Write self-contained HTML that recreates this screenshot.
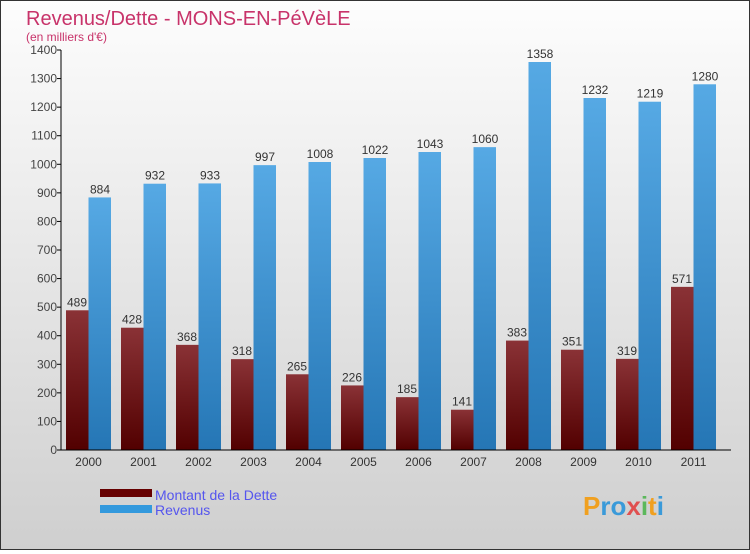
<!DOCTYPE html>
<html><head><meta charset="utf-8"><style>
html,body{margin:0;padding:0}
body{width:750px;height:550px;overflow:hidden;font-family:"Liberation Sans",sans-serif}
#wrap{position:relative;width:748px;height:548px;border:1px solid #333;background:linear-gradient(#fdfdfd,#cfcfcf)}
</style></head><body>
<div id="wrap">
<svg id="chart" width="748" height="548" xmlns="http://www.w3.org/2000/svg">
<defs>
<linearGradient id="gD" x1="0" y1="0" x2="0" y2="1"><stop offset="0" stop-color="#8a3236"/><stop offset="1" stop-color="#520000"/></linearGradient>
<linearGradient id="gR" x1="0" y1="0" x2="0" y2="1"><stop offset="0" stop-color="#56a9e4"/><stop offset="1" stop-color="#2576b5"/></linearGradient>
</defs>
<text x="25" y="24" font-size="20" fill="#c8336a">Revenus/Dette - MONS-EN-PéVèLE</text>
<text x="25" y="40" font-size="12" fill="#c8336a">(en milliers d'€)</text>
<g id="plot"></g>
<g>
<rect x="99" y="488" width="52" height="8" fill="#660000"/>
<text x="154" y="499" font-size="14" fill="#5555ee">Montant de la Dette</text>
<rect x="99" y="504" width="52" height="8" fill="#3399dd"/>
<text x="154" y="514" font-size="14" fill="#5555ee">Revenus</text>
</g>
<text x="582" y="514" font-size="26" font-weight="bold" fill="#3a9ad9"><tspan fill="#f0a020">P</tspan><tspan fill="#3a9ad9">ro</tspan><tspan fill="#e05050">x</tspan><tspan fill="#5cb85c">i</tspan><tspan fill="#f0a020">t</tspan><tspan fill="#3a9ad9">i</tspan></text>
</svg>
</div>
<script>
const categories=["2000","2001","2002","2003","2004","2005","2006","2007","2008","2009","2010","2011"];
const dette=[489,428,368,318,265,226,185,141,383,351,319,571];
const revenus=[884,932,933,997,1008,1022,1043,1060,1358,1232,1219,1280];
const yTicks=[0,100,200,300,400,500,600,700,800,900,1000,1100,1200,1300,1400];
const NS="http://www.w3.org/2000/svg";
const g=document.getElementById('plot');
const x0=60,slot=55,y0=449,yTop=49,yMax=1400;
function y(v){return y0-(v/yMax)*(y0-yTop);}
function xs(i){return x0+i*slot;}
function mk(t,a,txt){const e=document.createElementNS(NS,t);for(const k in a)e.setAttribute(k,a[k]);if(txt!=null)e.textContent=txt;g.appendChild(e);return e;}
yTicks.forEach(v=>{
 const t=mk('line',{x1:x0-4,x2:x0,y1:y(v),y2:y(v),stroke:'#000'});
 
 
 const l=mk('text',{x:x0-4,y:y(v)+4,'font-size':12,fill:'#444','text-anchor':'end'},String(v));
 
 
});
categories.forEach((c,i)=>{
 const bx=xs(i)+5;
 const d=mk('rect',{x:bx,y:y(dette[i]),width:22.5,height:y0-y(dette[i]),fill:'url(#gD)'});
 
 
 const r=mk('rect',{x:bx+22.5,y:y(revenus[i]),width:22.5,height:y0-y(revenus[i]),fill:'url(#gR)'});
 
 
 const dl=mk('text',{x:bx+11,y:y(dette[i])-4,'font-size':12,fill:'#333','text-anchor':'middle'},String(dette[i]));
 
 
 const rl=mk('text',{x:bx+34,y:y(revenus[i])-4,'font-size':12,fill:'#333','text-anchor':'middle'},String(revenus[i]));
 
 
 const cl=mk('text',{x:xs(i)+27.5,y:y0+16,'font-size':12,fill:'#333','text-anchor':'middle'},c);
 
 
});
const ya=mk('line',{x1:x0,x2:x0,y1:yTop,y2:y0,stroke:'#000'});


const xa=mk('line',{x1:x0,x2:x0+categories.length*slot+10,y1:y0,y2:y0,stroke:'#000'});


</script>
</body></html>
